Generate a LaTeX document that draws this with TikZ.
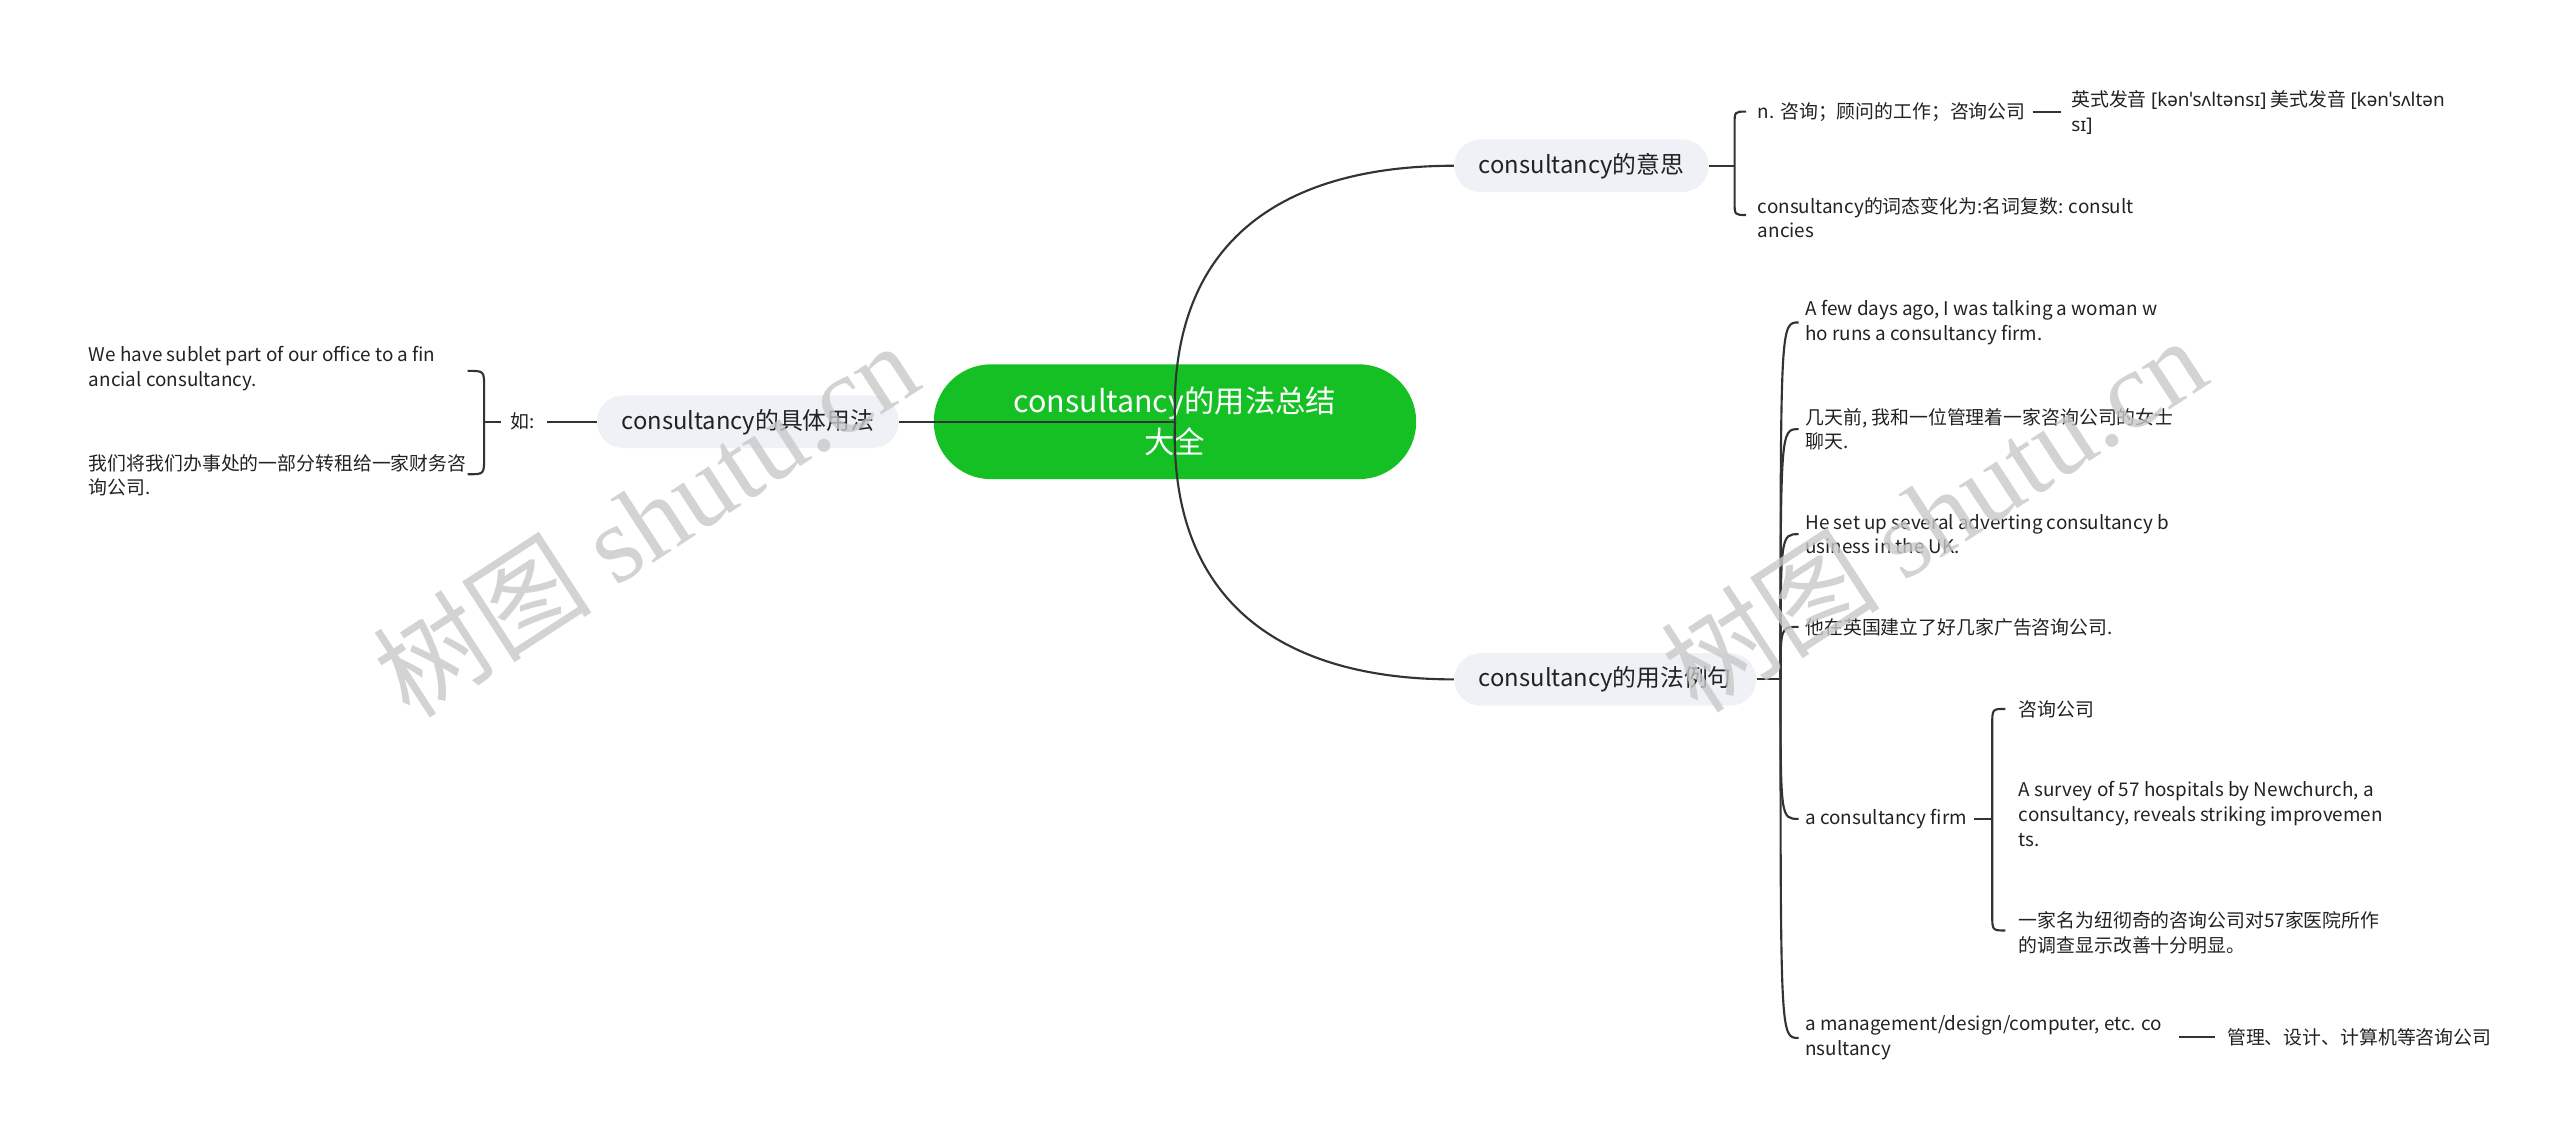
\documentclass[tikz,border=0pt]{standalone}
\usepackage{fontspec}
\setmainfont{Noto Sans CJK SC}
\newfontfamily\ipafont{Noto Sans}
\newfontfamily\wmlatin{Liberation Serif}
\usetikzlibrary{calc}
\definecolor{rootgreen}{RGB}{20,192,36}
\definecolor{pillgray}{RGB}{238,241,245}
\definecolor{linegray}{RGB}{51,51,51}
\definecolor{textgray}{RGB}{34,34,34}
\definecolor{markgray}{RGB}{200,200,200}
\tikzset{
  link/.style={draw=linegray, line width=1.3pt},
  leaf/.style={anchor=west, align=left, inner sep=0pt, text=textgray, font=\fontsize{11.5}{15}\selectfont},
  topic/.style={fill=pillgray, rounded corners=16pt, minimum height=32pt, inner xsep=15pt, text=textgray, font=\fontsize{14.5}{18}\selectfont},
  mainidea/.style={fill=rootgreen, rounded corners=35pt, minimum width=294pt, minimum height=70pt, align=center, text=white, font=\fontsize{18.5}{25}\selectfont},
  wmark/.style={rotate=33, text=markgray, opacity=0.8, font=\fontsize{67}{67}\selectfont}
}

\begin{document}
\begin{tikzpicture}[x=1pt, y=-1pt]
\useasboundingbox (0,0) rectangle (1560,696.5);
% centre and main branches
\node[mainidea] (root) at (716,257) {consultancy的用法总结\\大全};
\node[topic, anchor=east] (yongfa) at (548,257) {consultancy的具体用法};
\node[topic, anchor=west] (yisi) at (886,101) {consultancy的意思};
\node[topic, anchor=west] (liju) at (886,414) {consultancy的用法例句};

% left side
\node[leaf] (ru) at (311,257) {如:};
\node[leaf] (use1) at (54,224.5) {We have sublet part of our office to a fin\\ancial consultancy.};
\node[leaf] (use2) at (54,289.5) {我们将我们办事处的一部分转租给一家财务咨\\询公司.};
\coordinate (rub) at (295,257);

% meaning
\node[leaf] (mean1) at (1071,68) {n. 咨询；顾问的工作；咨询公司};
\node[leaf] (mean2) at (1071,132.5) {consultancy的词态变化为:名词复数: consult\\ancies};
\node[leaf] (pron) at (1262,68.5) {英式发音 {\ipafont[kənˈsʌltənsɪ]} 美式发音 {\ipafont[kənˈsʌltən}\\{\ipafont sɪ]}};
\coordinate (yib) at (1057,101);

% example sentences
\node[leaf] (ex1) at (1100,196.5) {A few days ago, I was talking a woman w\\ho runs a consultancy firm.};
\node[leaf] (ex2) at (1100,261.5) {几天前, 我和一位管理着一家咨询公司的女士\\聊天.};
\node[leaf] (ex3) at (1100,325.5) {He set up several adverting consultancy b\\usiness in the UK.};
\node[leaf] (ex4) at (1100,382) {他在英国建立了好几家广告咨询公司.};
\node[leaf] (firm) at (1100,499) {a consultancy firm};
\node[leaf] (mgmt) at (1100,632.5) {a management/design/computer, etc. co\\nsultancy};
\coordinate (hub) at (1085,414);

\node[leaf] (firm1) at (1230,432) {咨询公司};
\node[leaf] (firm2) at (1230,496) {A survey of 57 hospitals by Newchurch, a\\consultancy, reveals striking improvemen\\ts.};
\node[leaf] (firm3) at (1230,568.5) {一家名为纽彻奇的咨询公司对57家医院所作\\的调查显示改善十分明显。};
\coordinate (fb) at (1214,499);
\node[leaf] (mg1) at (1357,632) {管理、设计、计算机等咨询公司};

% connectors
\draw[link] (root.center) -- (yongfa.east);
\draw[link] (root.center) .. controls (712,140) and (790,101) .. (yisi.west);
\draw[link] (root.center) .. controls (712,374) and (790,414) .. (liju.west);

\draw[link, shorten >=7pt] (yongfa.west) -- (ru.east);
\draw[link, shorten <=6pt] (ru.west) -- (rub);
\draw[link] (285,226) .. controls (295,226) .. (295,236) -- (295,279) .. controls (295,289) .. (285,289);

\draw[link] (yisi.east) -- (yib);
\draw[link] (1064,68) .. controls (1057,68) .. (1057,76) -- (1057,123) .. controls (1057,131) .. (1064,131);
\draw[link, shorten <=4pt, shorten >=6pt] (mean1.east) -- (mean1.east -| pron.west);

\draw[link] (liju.east) -- (hub);
\foreach \c in {ex1,ex2,ex3,ex4,firm,mgmt}
  \draw[link] (hub) .. controls (hub |- \c.west) .. ([xshift=-4pt]\c.west);

\draw[link, shorten <=4pt] (firm.east) -- (fb);
\draw[link] (1222,432) .. controls (1214,432) .. (1214,442) -- (1214,557) .. controls (1214,567) .. (1222,567);
\draw[link, shorten <=10pt, shorten >=7pt] (mgmt.east |- mg1.west) -- (mg1.west);

% watermarks
\node[wmark] (mark1) at (393,316) {树图 {\wmlatin shutu.cn}};
\node[wmark] (mark2) at (1178,313) {树图 {\wmlatin shutu.cn}};
\end{tikzpicture}
\end{document}
